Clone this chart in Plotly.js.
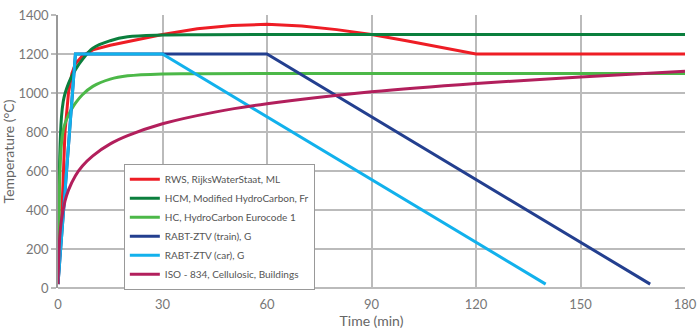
<!DOCTYPE html>
<html>
<head>
<meta charset="utf-8">
<script src="https://cdn.plot.ly/plotly-3.0.1.min.js"></script>
<style>html,body{margin:0;padding:0;background:#fff}#chart{width:700px;height:332px}</style>
</head>
<body>
<div id="chart"></div>
<script>
// RWS, RijksWaterStaat
const rwsT = [0, 1, 2, 3, 4, 5, 7, 10, 15, 20, 25, 30, 40, 50, 60, 70, 80, 90, 100, 110, 120, 180];
const rwsV = [20, 330, 800, 1000, 1100, 1150, 1190, 1221, 1245, 1263, 1282, 1300, 1330, 1346, 1352, 1343, 1325, 1300, 1268, 1234, 1200, 1200];
// HCM, Modified HydroCarbon
const hcmT = [0, 0.5, 1, 1.5, 2, 3, 4, 5, 7, 10, 15, 20, 30, 40, 60, 180];
const hcmV = [20, 670, 877, 956, 996, 1048, 1087, 1120, 1171, 1230, 1268, 1288, 1297, 1299, 1300, 1300];
// HC, HydroCarbon Eurocode 1
const hcT = [0, 0.5, 1, 1.5, 2, 3, 4, 5, 7, 10, 15, 20, 30, 40, 60, 180];
const hcV = [20, 569, 743, 809, 843, 887, 920, 948, 991, 1034, 1071, 1088, 1098, 1099, 1100, 1100];
// RABT-ZTV (train)
const trainT = [0, 5, 60, 170];
const trainV = [20, 1200, 1200, 20];
// RABT-ZTV (car)
const carT = [0, 5, 30, 140];
const carV = [20, 1200, 1200, 20];
// ISO 834
const isoT = [0, 0.5, 1, 2, 3, 5, 7, 10, 15, 20, 30, 45, 60, 90, 120, 150, 180];
const isoV = [20, 261, 349, 445, 502, 576, 626, 678, 739, 781, 842, 902, 945, 1006, 1049, 1082, 1112];

const names = ['RWS, RijksWaterStaat, ML', 'HCM, Modified HydroCarbon, Fr', 'HC, HydroCarbon Eurocode 1',
  'RABT-ZTV (train), G', 'RABT-ZTV (car), G', 'ISO - 834, Cellulosic, Buildings'];
const colors = ['#ee1d25', '#0b7f3d', '#4cb848', '#233f8f', '#12b1ec', '#b21f5c'];

const series = [
  [rwsT, rwsV, 'linear'], [hcmT, hcmV, 'spline'], [hcT, hcV, 'spline'],
  [trainT, trainV, 'linear'], [carT, carV, 'linear'], [isoT, isoV, 'spline']
];
const traces = series.map((s, i) => ({
  x: s[0], y: s[1], name: names[i], type: 'scatter', mode: 'lines',
  line: {color: colors[i], width: 3, shape: s[2]}
}));

const layout = {
  width: 700, height: 332,
  margin: {l: 58, r: 15, t: 15, b: 44},
  paper_bgcolor: '#fff', plot_bgcolor: '#fff',
  font: {family: 'Lato, "Open Sans", sans-serif', color: '#777', size: 13},
  showlegend: true,
  legend: {
    x: 0.105, y: 0.455, xanchor: 'left', yanchor: 'top',
    bgcolor: '#fff', bordercolor: '#999', borderwidth: 1,
    font: {size: 10, color: '#555'}, tracegroupgap: 0
  },
  xaxis: {
    range: [0, 180], dtick: 30, tick0: 0,
    showgrid: true, gridcolor: '#bbb', gridwidth: 1.5,
    zeroline: false, showline: false,
    ticks: 'outside', ticklen: 4, tickcolor: 'rgba(0,0,0,0)',
    tickfont: {size: 13, color: '#777'},
    title: {text: 'Time (min)', font: {size: 14, color: '#666'}, standoff: 4}
  },
  yaxis: {
    range: [0, 1400], dtick: 200, tick0: 0,
    showgrid: true, gridcolor: '#bbb', gridwidth: 1.5,
    zeroline: true, zerolinecolor: '#bbb', zerolinewidth: 1.5,
    showline: true, linecolor: '#999', linewidth: 1.5,
    ticks: 'outside', ticklen: 5, tickcolor: '#bbb', tickwidth: 1.5,
    tickfont: {size: 13, color: '#777'},
    title: {text: 'Temperature (°C)', font: {size: 14, color: '#666'}, standoff: 4}
  }
};

Plotly.newPlot('chart', traces, layout, {displayModeBar: false, responsive: false});
</script>
</body>
</html>
